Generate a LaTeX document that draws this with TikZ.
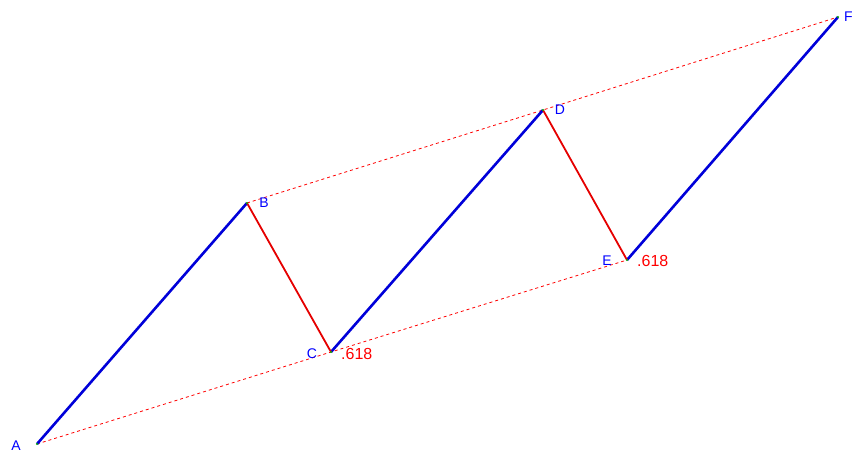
\documentclass[tikz,border=0pt]{standalone}
\usepackage{fontspec}
\setmainfont{Liberation Sans}
\usepackage{tikz}
\usetikzlibrary{calc}
\tikzset{leg/.style={line width=2.6pt,blue!85!black},
	back/.style={line width=1.8pt,red!90!black},
	chan/.style={red,dash pattern=on 3pt off 3pt,line width=0.8pt},
	lbl/.style={blue,font=\fontsize{14}{14}\selectfont,inner sep=0pt},
	ratio/.style={red,font=\fontsize{16}{16}\selectfont,inner sep=0pt,anchor=west}}
\newcommand{\gd}{circle (1.1pt)}

\begin{document}
\begin{tikzpicture}[x=1pt,y=-1pt]
				\useasboundingbox (0,0) rectangle (855,456);
				\coordinate (A) at (37,444);
				\coordinate (B) at (247,203);
				\coordinate (C) at (331,352);
				\coordinate (D) at (543,110);
				\coordinate (E) at (627,260);
				\coordinate (F) at (838,17);
				% channel lines
				\draw[chan] (A) -- (C) -- (E);
				\draw[chan] (B) -- (D) -- (F);
				% impulse legs
				\draw[leg] (A) -- (B);
				\draw[leg] (C) -- (D);
				\draw[leg] (E) -- (F);
				% retracements
				\draw[back] (B) -- (C);
				\draw[back] (D) -- (E);
				\fill[green!70!black] (A)\gd (B)\gd (C)\gd (D)\gd (E)\gd (F)\gd;
				\node[lbl] (la) at (16,446){A};
				\node[lbl] (lb) at (264,203){B};
				\node[lbl] (lc) at (312,354){C};
				\node[lbl] (ld) at (560,110){D};
				\node[lbl] (le) at (607,261){E};
				\node[lbl,anchor=west] (lf) at (844,17){F};
				\node[ratio] (rc) at (341,354){.618};
				\node[ratio] (re) at (637,261){.618};
			\end{tikzpicture}
\end{document}
